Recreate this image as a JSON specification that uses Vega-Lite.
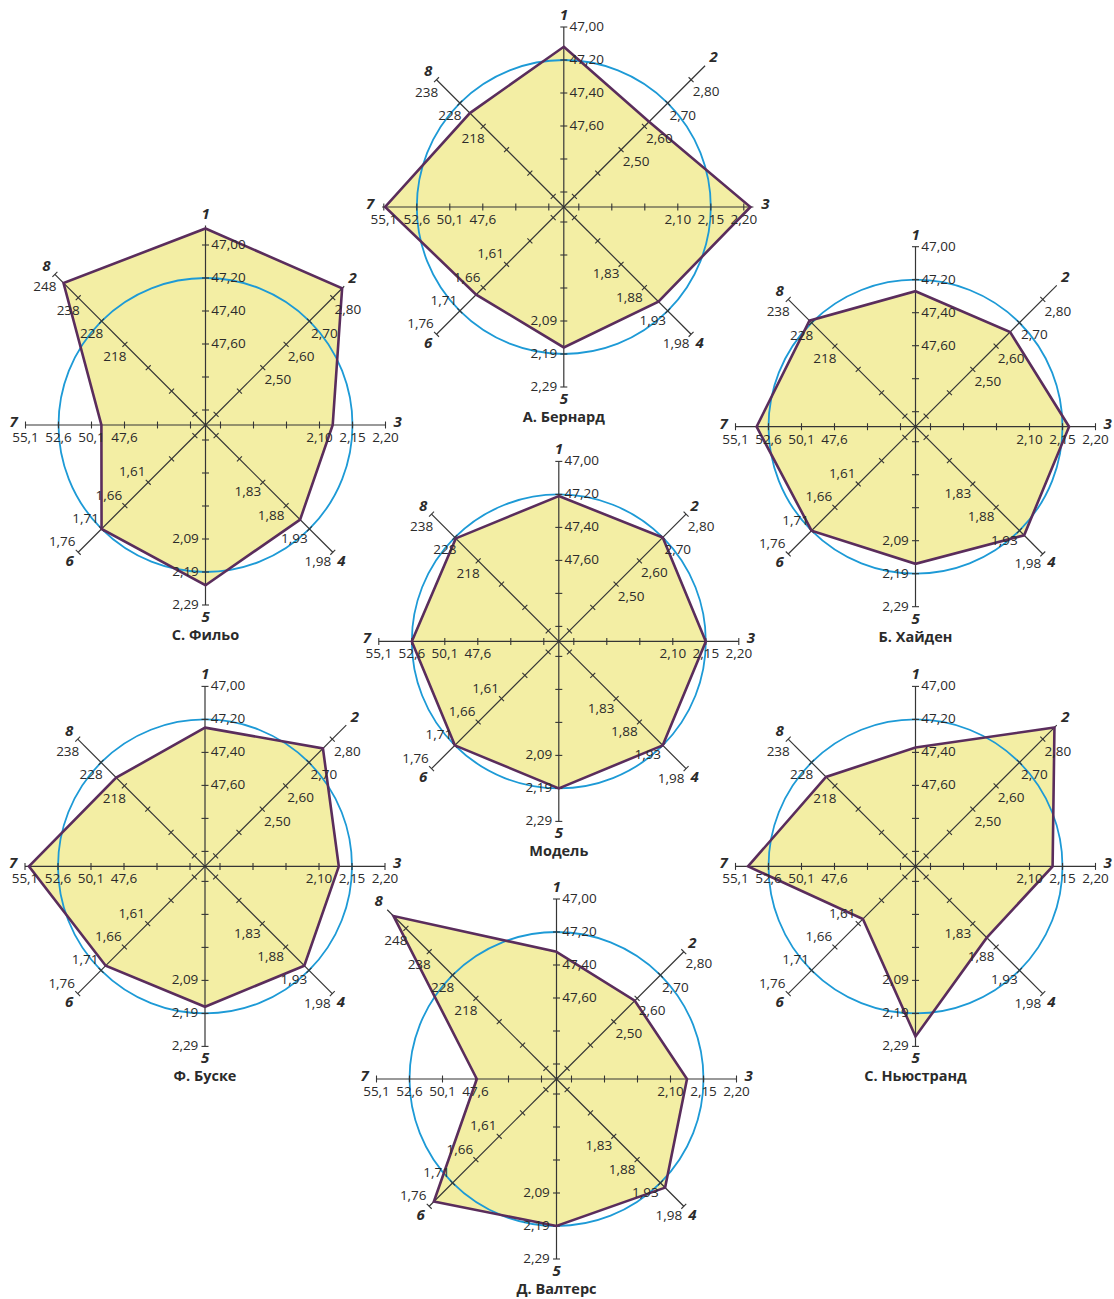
{
"$schema":"https://vega.github.io/schema/vega-lite/v6.json",
"background":"#ffffff",
"padding":{"left":8,"top":7,"right":5,"bottom":5},
"columns":3,"spacing":0,"bounds":"flush",
"config":{"view":{"stroke":null}},
"datasets":{
"axes":[
{"axis":1,"v0":47.6,"k0":2,"step":-0.2},
{"axis":2,"v0":2.5,"k0":2,"step":0.1},
{"axis":3,"v0":2.1,"k0":3,"step":0.05},
{"axis":4,"v0":1.83,"k0":2,"step":0.05},
{"axis":5,"v0":2.09,"k0":3,"step":0.1},
{"axis":6,"v0":1.61,"k0":2,"step":0.05},
{"axis":7,"v0":47.6,"k0":2,"step":2.5},
{"axis":8,"v0":218,"k0":3,"step":10}
],
"ticks":[
{"axis":1,"value":48.0,"label":""},{"axis":1,"value":47.8,"label":""},{"axis":1,"value":47.6,"label":"47,60"},{"axis":1,"value":47.4,"label":"47,40"},{"axis":1,"value":47.2,"label":"47,20"},{"axis":1,"value":47.0,"label":"47,00"},
{"axis":2,"value":2.3,"label":""},{"axis":2,"value":2.4,"label":""},{"axis":2,"value":2.5,"label":"2,50"},{"axis":2,"value":2.6,"label":"2,60"},{"axis":2,"value":2.7,"label":"2,70"},{"axis":2,"value":2.8,"label":"2,80"},
{"axis":3,"value":1.95,"label":""},{"axis":3,"value":2.0,"label":""},{"axis":3,"value":2.05,"label":""},{"axis":3,"value":2.1,"label":"2,10"},{"axis":3,"value":2.15,"label":"2,15"},{"axis":3,"value":2.2,"label":"2,20"},
{"axis":4,"value":1.73,"label":""},{"axis":4,"value":1.78,"label":""},{"axis":4,"value":1.83,"label":"1,83"},{"axis":4,"value":1.88,"label":"1,88"},{"axis":4,"value":1.93,"label":"1,93"},{"axis":4,"value":1.98,"label":"1,98"},
{"axis":5,"value":1.79,"label":""},{"axis":5,"value":1.89,"label":""},{"axis":5,"value":1.99,"label":""},{"axis":5,"value":2.09,"label":"2,09"},{"axis":5,"value":2.19,"label":"2,19"},{"axis":5,"value":2.29,"label":"2,29"},
{"axis":6,"value":1.51,"label":""},{"axis":6,"value":1.56,"label":""},{"axis":6,"value":1.61,"label":"1,61"},{"axis":6,"value":1.66,"label":"1,66"},{"axis":6,"value":1.71,"label":"1,71"},{"axis":6,"value":1.76,"label":"1,76"},
{"axis":7,"value":42.6,"label":""},{"axis":7,"value":45.1,"label":""},{"axis":7,"value":47.6,"label":"47,6"},{"axis":7,"value":50.1,"label":"50,1"},{"axis":7,"value":52.6,"label":"52,6"},{"axis":7,"value":55.1,"label":"55,1"},
{"axis":8,"value":188,"label":""},{"axis":8,"value":198,"label":""},{"axis":8,"value":208,"label":""},{"axis":8,"value":218,"label":"218"},{"axis":8,"value":228,"label":"228"},{"axis":8,"value":238,"label":"238"},{"axis":8,"value":248,"label":"248"}
],
"vals":[
{"chart":"bernard","axis":1,"value":47.12},{"chart":"bernard","axis":2,"value":2.62,"end":2.86},{"chart":"bernard","axis":3,"value":2.21},{"chart":"bernard","axis":4,"value":1.91},{"chart":"bernard","axis":5,"value":2.17},{"chart":"bernard","axis":6,"value":1.675},{"chart":"bernard","axis":7,"value":55.0},{"chart":"bernard","axis":8,"value":223.7},
{"chart":"filho","axis":1,"value":46.90},{"chart":"filho","axis":2,"value":2.84},{"chart":"filho","axis":3,"value":2.12},{"chart":"filho","axis":4,"value":1.91},{"chart":"filho","axis":5,"value":2.23},{"chart":"filho","axis":6,"value":1.71},{"chart":"filho","axis":7,"value":49.35},{"chart":"filho","axis":8,"value":244.3,"end":248},
{"chart":"hayden","axis":1,"value":47.27},{"chart":"hayden","axis":2,"value":2.66,"end":2.86},{"chart":"hayden","axis":3,"value":2.16},{"chart":"hayden","axis":4,"value":1.94},{"chart":"hayden","axis":5,"value":2.16},{"chart":"hayden","axis":6,"value":1.71},{"chart":"hayden","axis":7,"value":53.5},{"chart":"hayden","axis":8,"value":228.9},
{"chart":"model","axis":1,"value":47.21},{"chart":"model","axis":2,"value":2.70},{"chart":"model","axis":3,"value":2.15},{"chart":"model","axis":4,"value":1.93},{"chart":"model","axis":5,"value":2.19},{"chart":"model","axis":6,"value":1.71},{"chart":"model","axis":7,"value":52.6},{"chart":"model","axis":8,"value":227.6},
{"chart":"bousquet","axis":1,"value":47.25},{"chart":"bousquet","axis":2,"value":2.76,"end":2.86},{"chart":"bousquet","axis":3,"value":2.13},{"chart":"bousquet","axis":4,"value":1.92},{"chart":"bousquet","axis":5,"value":2.17},{"chart":"bousquet","axis":6,"value":1.70},{"chart":"bousquet","axis":7,"value":54.8},{"chart":"bousquet","axis":8,"value":221.5},
{"chart":"nystrand","axis":1,"value":47.37},{"chart":"nystrand","axis":2,"value":2.85,"end":2.86},{"chart":"nystrand","axis":3,"value":2.135},{"chart":"nystrand","axis":4,"value":1.86},{"chart":"nystrand","axis":5,"value":2.26},{"chart":"nystrand","axis":6,"value":1.60},{"chart":"nystrand","axis":7,"value":54.15},{"chart":"nystrand","axis":8,"value":221.8},
{"chart":"walters","axis":1,"value":47.32},{"chart":"walters","axis":2,"value":2.59},{"chart":"walters","axis":3,"value":2.125},{"chart":"walters","axis":4,"value":1.94},{"chart":"walters","axis":5,"value":2.19},{"chart":"walters","axis":6,"value":1.75},{"chart":"walters","axis":7,"value":47.5},{"chart":"walters","axis":8,"value":253.3,"end":256}
],
"charts":[
{"chart":"bernard","title":"А. Бернард"},
{"chart":"filho","title":"С. Фильо"},
{"chart":"hayden","title":"Б. Хайден"},
{"chart":"model","title":"Модель"},
{"chart":"bousquet","title":"Ф. Буске"},
{"chart":"nystrand","title":"С. Ньюстранд"},
{"chart":"walters","title":"Д. Валтерс"}
]
},
"concat":[
{"width":355,"height":218,"data":{"values":[]},"mark":"point"},
{"width":355,"height":218,
"encoding":{"x":{"field":"x","type":"quantitative","scale":{"domain":[-180.8,174.2],"nice":false,"zero":false},"axis":null},"y":{"field":"y","type":"quantitative","scale":{"domain":[-109,109],"nice":false,"zero":false},"axis":null}},
"layer":[
{"data":{"name":"vals"},"transform":[{"filter":"datum.chart=='bernard'"},{"lookup":"axis","from":{"data":{"name":"axes"},"key":"axis","fields":["v0","k0","step"]}},{"calculate":"15+33*(datum.k0+(datum.value-datum.v0)/datum.step)","as":"r"},{"calculate":"(datum.axis-1)*PI/4","as":"t"},{"calculate":"datum.r*sin(datum.t)","as":"x"},{"calculate":"datum.r*cos(datum.t)","as":"y"}],
"mark":{"type":"line","interpolate":"linear-closed","fill":"#f3eea4","strokeOpacity":0},"encoding":{"order":{"field":"axis","type":"quantitative"}}},
{"data":{"values":[{}]},"transform":[{"calculate":"0","as":"x"},{"calculate":"0","as":"y"}],
"mark":{"type":"point","shape":"circle","size":86436,"filled":false,"stroke":"#1d9ad6","strokeWidth":1.8,"opacity":1}},
{"data":{"name":"vals"},"transform":[{"filter":"datum.chart=='bernard'"},{"lookup":"axis","from":{"data":{"name":"axes"},"key":"axis","fields":["v0","k0","step"]}},{"calculate":"15+33*(datum.k0+(datum.value-datum.v0)/datum.step)","as":"r"},{"calculate":"(datum.axis-1)*PI/4","as":"t"},{"calculate":"max(180,datum.r+3,isValid(datum.end)?15+33*(datum.k0+(datum.end-datum.v0)/datum.step):0)","as":"re"},{"calculate":"0","as":"x"},{"calculate":"0","as":"y"},{"calculate":"datum.re*sin(datum.t)","as":"ex"},{"calculate":"datum.re*cos(datum.t)","as":"ey"}],
"mark":{"type":"rule","color":"#353535","strokeWidth":1.2},"encoding":{"x2":{"field":"ex"},"y2":{"field":"ey"}}},
{"data":{"name":"ticks"},"transform":[{"filter":"datum.value!=248"},{"lookup":"axis","from":{"data":{"name":"axes"},"key":"axis","fields":["v0","k0","step"]}},{"calculate":"15+33*(datum.k0+(datum.value-datum.v0)/datum.step)","as":"r"},{"calculate":"(datum.axis-1)*PI/4","as":"t"},{"calculate":"datum.r*sin(datum.t)+3.5*cos(datum.t)","as":"x"},{"calculate":"datum.r*cos(datum.t)-3.5*sin(datum.t)","as":"y"},{"calculate":"datum.r*sin(datum.t)-3.5*cos(datum.t)","as":"tx2"},{"calculate":"datum.r*cos(datum.t)+3.5*sin(datum.t)","as":"ty2"}],
"mark":{"type":"rule","color":"#353535","strokeWidth":1.1},"encoding":{"x2":{"field":"tx2"},"y2":{"field":"ty2"}}},
{"data":{"name":"vals"},"transform":[{"filter":"datum.chart=='bernard'"},{"lookup":"axis","from":{"data":{"name":"axes"},"key":"axis","fields":["v0","k0","step"]}},{"calculate":"15+33*(datum.k0+(datum.value-datum.v0)/datum.step)","as":"r"},{"calculate":"(datum.axis-1)*PI/4","as":"t"},{"calculate":"datum.r*sin(datum.t)","as":"x"},{"calculate":"datum.r*cos(datum.t)","as":"y"}],
"mark":{"type":"line","interpolate":"linear-closed","color":"#5a2d5c","strokeWidth":2.6},"encoding":{"order":{"field":"axis","type":"quantitative"}}},
{"data":{"name":"ticks"},"transform":[{"filter":"datum.label!=''"},{"filter":"datum.value!=248"},{"lookup":"axis","from":{"data":{"name":"axes"},"key":"axis","fields":["v0","k0","step"]}},{"calculate":"15+33*(datum.k0+(datum.value-datum.v0)/datum.step)","as":"r"},{"calculate":"(datum.axis-1)*PI/4","as":"t"},{"calculate":"datum.r*sin(datum.t)+[0,23,15,0,-15,-20,-16,0,-10][datum.axis]","as":"x"},{"calculate":"datum.r*cos(datum.t)-[0,0,12.5,13,10,0,-10,13,13][datum.axis]","as":"y"}],
"mark":{"type":"text","font":"Open Sans","fontSize":13.5,"color":"#2b2b2b","align":"center","baseline":"middle"},"encoding":{"text":{"field":"label"}}},
{"data":{"name":"vals"},"transform":[{"filter":"datum.chart=='bernard'"},{"lookup":"axis","from":{"data":{"name":"axes"},"key":"axis","fields":["v0","k0","step"]}},{"calculate":"15+33*(datum.k0+(datum.value-datum.v0)/datum.step)","as":"r"},{"calculate":"(datum.axis-1)*PI/4","as":"t"},{"calculate":"max(180,datum.r+3,isValid(datum.end)?15+33*(datum.k0+(datum.end-datum.v0)/datum.step):0)","as":"re"},{"calculate":"(datum.re+12)*sin(datum.t)","as":"x"},{"calculate":"(datum.re+12)*cos(datum.t)+(datum.axis==3||datum.axis==7?3:0)","as":"y"},{"calculate":"''+datum.axis","as":"num"}],
"mark":{"type":"text","font":"Open Sans","fontSize":15,"fontWeight":"bold","fontStyle":"italic","color":"#2b2b2b","align":"center","baseline":"middle"},"encoding":{"text":{"field":"num"}}},
{"data":{"name":"charts"},"transform":[{"filter":"datum.chart=='bernard'"},{"calculate":"0","as":"x"},{"calculate":"-211","as":"y"}],
"mark":{"type":"text","font":"Open Sans","fontSize":14.5,"fontWeight":"bold","color":"#2b2b2b","align":"center","baseline":"middle"},"encoding":{"text":{"field":"title"}}}
]},
{"width":355,"height":218,"data":{"values":[]},"mark":"point"},

{"width":355,"height":218,
"encoding":{"x":{"field":"x","type":"quantitative","scale":{"domain":[-177.5,177.5],"nice":false,"zero":false},"axis":null},"y":{"field":"y","type":"quantitative","scale":{"domain":[-109,109],"nice":false,"zero":false},"axis":null}},
"layer":[
{"data":{"name":"vals"},"transform":[{"filter":"datum.chart=='filho'"},{"lookup":"axis","from":{"data":{"name":"axes"},"key":"axis","fields":["v0","k0","step"]}},{"calculate":"15+33*(datum.k0+(datum.value-datum.v0)/datum.step)","as":"r"},{"calculate":"(datum.axis-1)*PI/4","as":"t"},{"calculate":"datum.r*sin(datum.t)","as":"x"},{"calculate":"datum.r*cos(datum.t)","as":"y"}],
"mark":{"type":"line","interpolate":"linear-closed","fill":"#f3eea4","strokeOpacity":0},"encoding":{"order":{"field":"axis","type":"quantitative"}}},
{"data":{"values":[{}]},"transform":[{"calculate":"0","as":"x"},{"calculate":"0","as":"y"}],
"mark":{"type":"point","shape":"circle","size":86436,"filled":false,"stroke":"#1d9ad6","strokeWidth":1.8,"opacity":1}},
{"data":{"name":"vals"},"transform":[{"filter":"datum.chart=='filho'"},{"lookup":"axis","from":{"data":{"name":"axes"},"key":"axis","fields":["v0","k0","step"]}},{"calculate":"15+33*(datum.k0+(datum.value-datum.v0)/datum.step)","as":"r"},{"calculate":"(datum.axis-1)*PI/4","as":"t"},{"calculate":"max(180,datum.r+3,isValid(datum.end)?15+33*(datum.k0+(datum.end-datum.v0)/datum.step):0)","as":"re"},{"calculate":"0","as":"x"},{"calculate":"0","as":"y"},{"calculate":"datum.re*sin(datum.t)","as":"ex"},{"calculate":"datum.re*cos(datum.t)","as":"ey"}],
"mark":{"type":"rule","color":"#353535","strokeWidth":1.2},"encoding":{"x2":{"field":"ex"},"y2":{"field":"ey"}}},
{"data":{"name":"ticks"},"transform":[{"filter":"true"},{"lookup":"axis","from":{"data":{"name":"axes"},"key":"axis","fields":["v0","k0","step"]}},{"calculate":"15+33*(datum.k0+(datum.value-datum.v0)/datum.step)","as":"r"},{"calculate":"(datum.axis-1)*PI/4","as":"t"},{"calculate":"datum.r*sin(datum.t)+3.5*cos(datum.t)","as":"x"},{"calculate":"datum.r*cos(datum.t)-3.5*sin(datum.t)","as":"y"},{"calculate":"datum.r*sin(datum.t)-3.5*cos(datum.t)","as":"tx2"},{"calculate":"datum.r*cos(datum.t)+3.5*sin(datum.t)","as":"ty2"}],
"mark":{"type":"rule","color":"#353535","strokeWidth":1.1},"encoding":{"x2":{"field":"tx2"},"y2":{"field":"ty2"}}},
{"data":{"name":"vals"},"transform":[{"filter":"datum.chart=='filho'"},{"lookup":"axis","from":{"data":{"name":"axes"},"key":"axis","fields":["v0","k0","step"]}},{"calculate":"15+33*(datum.k0+(datum.value-datum.v0)/datum.step)","as":"r"},{"calculate":"(datum.axis-1)*PI/4","as":"t"},{"calculate":"datum.r*sin(datum.t)","as":"x"},{"calculate":"datum.r*cos(datum.t)","as":"y"}],
"mark":{"type":"line","interpolate":"linear-closed","color":"#5a2d5c","strokeWidth":2.6},"encoding":{"order":{"field":"axis","type":"quantitative"}}},
{"data":{"name":"ticks"},"transform":[{"filter":"datum.label!=''"},{"lookup":"axis","from":{"data":{"name":"axes"},"key":"axis","fields":["v0","k0","step"]}},{"calculate":"15+33*(datum.k0+(datum.value-datum.v0)/datum.step)","as":"r"},{"calculate":"(datum.axis-1)*PI/4","as":"t"},{"calculate":"datum.r*sin(datum.t)+[0,23,15,0,-15,-20,-16,0,-10][datum.axis]","as":"x"},{"calculate":"datum.r*cos(datum.t)-[0,0,12.5,13,10,0,-10,13,13][datum.axis]","as":"y"}],
"mark":{"type":"text","font":"Open Sans","fontSize":13.5,"color":"#2b2b2b","align":"center","baseline":"middle"},"encoding":{"text":{"field":"label"}}},
{"data":{"name":"vals"},"transform":[{"filter":"datum.chart=='filho'"},{"lookup":"axis","from":{"data":{"name":"axes"},"key":"axis","fields":["v0","k0","step"]}},{"calculate":"15+33*(datum.k0+(datum.value-datum.v0)/datum.step)","as":"r"},{"calculate":"(datum.axis-1)*PI/4","as":"t"},{"calculate":"max(180,datum.r+3,isValid(datum.end)?15+33*(datum.k0+(datum.end-datum.v0)/datum.step):0)","as":"re"},{"calculate":"(datum.re+12)*sin(datum.t)","as":"x"},{"calculate":"(datum.re+12)*cos(datum.t)+(datum.axis==3||datum.axis==7?3:0)","as":"y"},{"calculate":"''+datum.axis","as":"num"}],
"mark":{"type":"text","font":"Open Sans","fontSize":15,"fontWeight":"bold","fontStyle":"italic","color":"#2b2b2b","align":"center","baseline":"middle"},"encoding":{"text":{"field":"num"}}},
{"data":{"name":"charts"},"transform":[{"filter":"datum.chart=='filho'"},{"calculate":"0","as":"x"},{"calculate":"-211","as":"y"}],
"mark":{"type":"text","font":"Open Sans","fontSize":14.5,"fontWeight":"bold","color":"#2b2b2b","align":"center","baseline":"middle"},"encoding":{"text":{"field":"title"}}}
]},
{"width":355,"height":218,"data":{"values":[]},"mark":"point"},
{"width":355,"height":218,
"encoding":{"x":{"field":"x","type":"quantitative","scale":{"domain":[-177.5,177.5],"nice":false,"zero":false},"axis":null},"y":{"field":"y","type":"quantitative","scale":{"domain":[-107.3,110.7],"nice":false,"zero":false},"axis":null}},
"layer":[
{"data":{"name":"vals"},"transform":[{"filter":"datum.chart=='hayden'"},{"lookup":"axis","from":{"data":{"name":"axes"},"key":"axis","fields":["v0","k0","step"]}},{"calculate":"15+33*(datum.k0+(datum.value-datum.v0)/datum.step)","as":"r"},{"calculate":"(datum.axis-1)*PI/4","as":"t"},{"calculate":"datum.r*sin(datum.t)","as":"x"},{"calculate":"datum.r*cos(datum.t)","as":"y"}],
"mark":{"type":"line","interpolate":"linear-closed","fill":"#f3eea4","strokeOpacity":0},"encoding":{"order":{"field":"axis","type":"quantitative"}}},
{"data":{"values":[{}]},"transform":[{"calculate":"0","as":"x"},{"calculate":"0","as":"y"}],
"mark":{"type":"point","shape":"circle","size":86436,"filled":false,"stroke":"#1d9ad6","strokeWidth":1.8,"opacity":1}},
{"data":{"name":"vals"},"transform":[{"filter":"datum.chart=='hayden'"},{"lookup":"axis","from":{"data":{"name":"axes"},"key":"axis","fields":["v0","k0","step"]}},{"calculate":"15+33*(datum.k0+(datum.value-datum.v0)/datum.step)","as":"r"},{"calculate":"(datum.axis-1)*PI/4","as":"t"},{"calculate":"max(180,datum.r+3,isValid(datum.end)?15+33*(datum.k0+(datum.end-datum.v0)/datum.step):0)","as":"re"},{"calculate":"0","as":"x"},{"calculate":"0","as":"y"},{"calculate":"datum.re*sin(datum.t)","as":"ex"},{"calculate":"datum.re*cos(datum.t)","as":"ey"}],
"mark":{"type":"rule","color":"#353535","strokeWidth":1.2},"encoding":{"x2":{"field":"ex"},"y2":{"field":"ey"}}},
{"data":{"name":"ticks"},"transform":[{"filter":"datum.value!=248"},{"lookup":"axis","from":{"data":{"name":"axes"},"key":"axis","fields":["v0","k0","step"]}},{"calculate":"15+33*(datum.k0+(datum.value-datum.v0)/datum.step)","as":"r"},{"calculate":"(datum.axis-1)*PI/4","as":"t"},{"calculate":"datum.r*sin(datum.t)+3.5*cos(datum.t)","as":"x"},{"calculate":"datum.r*cos(datum.t)-3.5*sin(datum.t)","as":"y"},{"calculate":"datum.r*sin(datum.t)-3.5*cos(datum.t)","as":"tx2"},{"calculate":"datum.r*cos(datum.t)+3.5*sin(datum.t)","as":"ty2"}],
"mark":{"type":"rule","color":"#353535","strokeWidth":1.1},"encoding":{"x2":{"field":"tx2"},"y2":{"field":"ty2"}}},
{"data":{"name":"vals"},"transform":[{"filter":"datum.chart=='hayden'"},{"lookup":"axis","from":{"data":{"name":"axes"},"key":"axis","fields":["v0","k0","step"]}},{"calculate":"15+33*(datum.k0+(datum.value-datum.v0)/datum.step)","as":"r"},{"calculate":"(datum.axis-1)*PI/4","as":"t"},{"calculate":"datum.r*sin(datum.t)","as":"x"},{"calculate":"datum.r*cos(datum.t)","as":"y"}],
"mark":{"type":"line","interpolate":"linear-closed","color":"#5a2d5c","strokeWidth":2.6},"encoding":{"order":{"field":"axis","type":"quantitative"}}},
{"data":{"name":"ticks"},"transform":[{"filter":"datum.label!=''"},{"filter":"datum.value!=248"},{"lookup":"axis","from":{"data":{"name":"axes"},"key":"axis","fields":["v0","k0","step"]}},{"calculate":"15+33*(datum.k0+(datum.value-datum.v0)/datum.step)","as":"r"},{"calculate":"(datum.axis-1)*PI/4","as":"t"},{"calculate":"datum.r*sin(datum.t)+[0,23,15,0,-15,-20,-16,0,-10][datum.axis]","as":"x"},{"calculate":"datum.r*cos(datum.t)-[0,0,12.5,13,10,0,-10,13,13][datum.axis]","as":"y"}],
"mark":{"type":"text","font":"Open Sans","fontSize":13.5,"color":"#2b2b2b","align":"center","baseline":"middle"},"encoding":{"text":{"field":"label"}}},
{"data":{"name":"vals"},"transform":[{"filter":"datum.chart=='hayden'"},{"lookup":"axis","from":{"data":{"name":"axes"},"key":"axis","fields":["v0","k0","step"]}},{"calculate":"15+33*(datum.k0+(datum.value-datum.v0)/datum.step)","as":"r"},{"calculate":"(datum.axis-1)*PI/4","as":"t"},{"calculate":"max(180,datum.r+3,isValid(datum.end)?15+33*(datum.k0+(datum.end-datum.v0)/datum.step):0)","as":"re"},{"calculate":"(datum.re+12)*sin(datum.t)","as":"x"},{"calculate":"(datum.re+12)*cos(datum.t)+(datum.axis==3||datum.axis==7?3:0)","as":"y"},{"calculate":"''+datum.axis","as":"num"}],
"mark":{"type":"text","font":"Open Sans","fontSize":15,"fontWeight":"bold","fontStyle":"italic","color":"#2b2b2b","align":"center","baseline":"middle"},"encoding":{"text":{"field":"num"}}},
{"data":{"name":"charts"},"transform":[{"filter":"datum.chart=='hayden'"},{"calculate":"0","as":"x"},{"calculate":"-211","as":"y"}],
"mark":{"type":"text","font":"Open Sans","fontSize":14.5,"fontWeight":"bold","color":"#2b2b2b","align":"center","baseline":"middle"},"encoding":{"text":{"field":"title"}}}
]},

{"width":355,"height":218,"data":{"values":[]},"mark":"point"},
{"width":355,"height":218,
"encoding":{"x":{"field":"x","type":"quantitative","scale":{"domain":[-175.8,179.2],"nice":false,"zero":false},"axis":null},"y":{"field":"y","type":"quantitative","scale":{"domain":[-110.6,107.4],"nice":false,"zero":false},"axis":null}},
"layer":[
{"data":{"name":"vals"},"transform":[{"filter":"datum.chart=='model'"},{"lookup":"axis","from":{"data":{"name":"axes"},"key":"axis","fields":["v0","k0","step"]}},{"calculate":"15+33*(datum.k0+(datum.value-datum.v0)/datum.step)","as":"r"},{"calculate":"(datum.axis-1)*PI/4","as":"t"},{"calculate":"datum.r*sin(datum.t)","as":"x"},{"calculate":"datum.r*cos(datum.t)","as":"y"}],
"mark":{"type":"line","interpolate":"linear-closed","fill":"#f3eea4","strokeOpacity":0},"encoding":{"order":{"field":"axis","type":"quantitative"}}},
{"data":{"values":[{}]},"transform":[{"calculate":"0","as":"x"},{"calculate":"0","as":"y"}],
"mark":{"type":"point","shape":"circle","size":86436,"filled":false,"stroke":"#1d9ad6","strokeWidth":1.8,"opacity":1}},
{"data":{"name":"vals"},"transform":[{"filter":"datum.chart=='model'"},{"lookup":"axis","from":{"data":{"name":"axes"},"key":"axis","fields":["v0","k0","step"]}},{"calculate":"15+33*(datum.k0+(datum.value-datum.v0)/datum.step)","as":"r"},{"calculate":"(datum.axis-1)*PI/4","as":"t"},{"calculate":"max(180,datum.r+3,isValid(datum.end)?15+33*(datum.k0+(datum.end-datum.v0)/datum.step):0)","as":"re"},{"calculate":"0","as":"x"},{"calculate":"0","as":"y"},{"calculate":"datum.re*sin(datum.t)","as":"ex"},{"calculate":"datum.re*cos(datum.t)","as":"ey"}],
"mark":{"type":"rule","color":"#353535","strokeWidth":1.2},"encoding":{"x2":{"field":"ex"},"y2":{"field":"ey"}}},
{"data":{"name":"ticks"},"transform":[{"filter":"datum.value!=248"},{"lookup":"axis","from":{"data":{"name":"axes"},"key":"axis","fields":["v0","k0","step"]}},{"calculate":"15+33*(datum.k0+(datum.value-datum.v0)/datum.step)","as":"r"},{"calculate":"(datum.axis-1)*PI/4","as":"t"},{"calculate":"datum.r*sin(datum.t)+3.5*cos(datum.t)","as":"x"},{"calculate":"datum.r*cos(datum.t)-3.5*sin(datum.t)","as":"y"},{"calculate":"datum.r*sin(datum.t)-3.5*cos(datum.t)","as":"tx2"},{"calculate":"datum.r*cos(datum.t)+3.5*sin(datum.t)","as":"ty2"}],
"mark":{"type":"rule","color":"#353535","strokeWidth":1.1},"encoding":{"x2":{"field":"tx2"},"y2":{"field":"ty2"}}},
{"data":{"name":"vals"},"transform":[{"filter":"datum.chart=='model'"},{"lookup":"axis","from":{"data":{"name":"axes"},"key":"axis","fields":["v0","k0","step"]}},{"calculate":"15+33*(datum.k0+(datum.value-datum.v0)/datum.step)","as":"r"},{"calculate":"(datum.axis-1)*PI/4","as":"t"},{"calculate":"datum.r*sin(datum.t)","as":"x"},{"calculate":"datum.r*cos(datum.t)","as":"y"}],
"mark":{"type":"line","interpolate":"linear-closed","color":"#5a2d5c","strokeWidth":2.6},"encoding":{"order":{"field":"axis","type":"quantitative"}}},
{"data":{"name":"ticks"},"transform":[{"filter":"datum.label!=''"},{"filter":"datum.value!=248"},{"lookup":"axis","from":{"data":{"name":"axes"},"key":"axis","fields":["v0","k0","step"]}},{"calculate":"15+33*(datum.k0+(datum.value-datum.v0)/datum.step)","as":"r"},{"calculate":"(datum.axis-1)*PI/4","as":"t"},{"calculate":"datum.r*sin(datum.t)+[0,23,15,0,-15,-20,-16,0,-10][datum.axis]","as":"x"},{"calculate":"datum.r*cos(datum.t)-[0,0,12.5,13,10,0,-10,13,13][datum.axis]","as":"y"}],
"mark":{"type":"text","font":"Open Sans","fontSize":13.5,"color":"#2b2b2b","align":"center","baseline":"middle"},"encoding":{"text":{"field":"label"}}},
{"data":{"name":"vals"},"transform":[{"filter":"datum.chart=='model'"},{"lookup":"axis","from":{"data":{"name":"axes"},"key":"axis","fields":["v0","k0","step"]}},{"calculate":"15+33*(datum.k0+(datum.value-datum.v0)/datum.step)","as":"r"},{"calculate":"(datum.axis-1)*PI/4","as":"t"},{"calculate":"max(180,datum.r+3,isValid(datum.end)?15+33*(datum.k0+(datum.end-datum.v0)/datum.step):0)","as":"re"},{"calculate":"(datum.re+12)*sin(datum.t)","as":"x"},{"calculate":"(datum.re+12)*cos(datum.t)+(datum.axis==3||datum.axis==7?3:0)","as":"y"},{"calculate":"''+datum.axis","as":"num"}],
"mark":{"type":"text","font":"Open Sans","fontSize":15,"fontWeight":"bold","fontStyle":"italic","color":"#2b2b2b","align":"center","baseline":"middle"},"encoding":{"text":{"field":"num"}}},
{"data":{"name":"charts"},"transform":[{"filter":"datum.chart=='model'"},{"calculate":"0","as":"x"},{"calculate":"-211","as":"y"}],
"mark":{"type":"text","font":"Open Sans","fontSize":14.5,"fontWeight":"bold","color":"#2b2b2b","align":"center","baseline":"middle"},"encoding":{"text":{"field":"title"}}}
]},
{"width":355,"height":218,"data":{"values":[]},"mark":"point"},

{"width":355,"height":218,
"encoding":{"x":{"field":"x","type":"quantitative","scale":{"domain":[-177,178],"nice":false,"zero":false},"axis":null},"y":{"field":"y","type":"quantitative","scale":{"domain":[-103.6,114.4],"nice":false,"zero":false},"axis":null}},
"layer":[
{"data":{"name":"vals"},"transform":[{"filter":"datum.chart=='bousquet'"},{"lookup":"axis","from":{"data":{"name":"axes"},"key":"axis","fields":["v0","k0","step"]}},{"calculate":"15+33*(datum.k0+(datum.value-datum.v0)/datum.step)","as":"r"},{"calculate":"(datum.axis-1)*PI/4","as":"t"},{"calculate":"datum.r*sin(datum.t)","as":"x"},{"calculate":"datum.r*cos(datum.t)","as":"y"}],
"mark":{"type":"line","interpolate":"linear-closed","fill":"#f3eea4","strokeOpacity":0},"encoding":{"order":{"field":"axis","type":"quantitative"}}},
{"data":{"values":[{}]},"transform":[{"calculate":"0","as":"x"},{"calculate":"0","as":"y"}],
"mark":{"type":"point","shape":"circle","size":86436,"filled":false,"stroke":"#1d9ad6","strokeWidth":1.8,"opacity":1}},
{"data":{"name":"vals"},"transform":[{"filter":"datum.chart=='bousquet'"},{"lookup":"axis","from":{"data":{"name":"axes"},"key":"axis","fields":["v0","k0","step"]}},{"calculate":"15+33*(datum.k0+(datum.value-datum.v0)/datum.step)","as":"r"},{"calculate":"(datum.axis-1)*PI/4","as":"t"},{"calculate":"max(180,datum.r+3,isValid(datum.end)?15+33*(datum.k0+(datum.end-datum.v0)/datum.step):0)","as":"re"},{"calculate":"0","as":"x"},{"calculate":"0","as":"y"},{"calculate":"datum.re*sin(datum.t)","as":"ex"},{"calculate":"datum.re*cos(datum.t)","as":"ey"}],
"mark":{"type":"rule","color":"#353535","strokeWidth":1.2},"encoding":{"x2":{"field":"ex"},"y2":{"field":"ey"}}},
{"data":{"name":"ticks"},"transform":[{"filter":"datum.value!=248"},{"lookup":"axis","from":{"data":{"name":"axes"},"key":"axis","fields":["v0","k0","step"]}},{"calculate":"15+33*(datum.k0+(datum.value-datum.v0)/datum.step)","as":"r"},{"calculate":"(datum.axis-1)*PI/4","as":"t"},{"calculate":"datum.r*sin(datum.t)+3.5*cos(datum.t)","as":"x"},{"calculate":"datum.r*cos(datum.t)-3.5*sin(datum.t)","as":"y"},{"calculate":"datum.r*sin(datum.t)-3.5*cos(datum.t)","as":"tx2"},{"calculate":"datum.r*cos(datum.t)+3.5*sin(datum.t)","as":"ty2"}],
"mark":{"type":"rule","color":"#353535","strokeWidth":1.1},"encoding":{"x2":{"field":"tx2"},"y2":{"field":"ty2"}}},
{"data":{"name":"vals"},"transform":[{"filter":"datum.chart=='bousquet'"},{"lookup":"axis","from":{"data":{"name":"axes"},"key":"axis","fields":["v0","k0","step"]}},{"calculate":"15+33*(datum.k0+(datum.value-datum.v0)/datum.step)","as":"r"},{"calculate":"(datum.axis-1)*PI/4","as":"t"},{"calculate":"datum.r*sin(datum.t)","as":"x"},{"calculate":"datum.r*cos(datum.t)","as":"y"}],
"mark":{"type":"line","interpolate":"linear-closed","color":"#5a2d5c","strokeWidth":2.6},"encoding":{"order":{"field":"axis","type":"quantitative"}}},
{"data":{"name":"ticks"},"transform":[{"filter":"datum.label!=''"},{"filter":"datum.value!=248"},{"lookup":"axis","from":{"data":{"name":"axes"},"key":"axis","fields":["v0","k0","step"]}},{"calculate":"15+33*(datum.k0+(datum.value-datum.v0)/datum.step)","as":"r"},{"calculate":"(datum.axis-1)*PI/4","as":"t"},{"calculate":"datum.r*sin(datum.t)+[0,23,15,0,-15,-20,-16,0,-10][datum.axis]","as":"x"},{"calculate":"datum.r*cos(datum.t)-[0,0,12.5,13,10,0,-10,13,13][datum.axis]","as":"y"}],
"mark":{"type":"text","font":"Open Sans","fontSize":13.5,"color":"#2b2b2b","align":"center","baseline":"middle"},"encoding":{"text":{"field":"label"}}},
{"data":{"name":"vals"},"transform":[{"filter":"datum.chart=='bousquet'"},{"lookup":"axis","from":{"data":{"name":"axes"},"key":"axis","fields":["v0","k0","step"]}},{"calculate":"15+33*(datum.k0+(datum.value-datum.v0)/datum.step)","as":"r"},{"calculate":"(datum.axis-1)*PI/4","as":"t"},{"calculate":"max(180,datum.r+3,isValid(datum.end)?15+33*(datum.k0+(datum.end-datum.v0)/datum.step):0)","as":"re"},{"calculate":"(datum.re+12)*sin(datum.t)","as":"x"},{"calculate":"(datum.re+12)*cos(datum.t)+(datum.axis==3||datum.axis==7?3:0)","as":"y"},{"calculate":"''+datum.axis","as":"num"}],
"mark":{"type":"text","font":"Open Sans","fontSize":15,"fontWeight":"bold","fontStyle":"italic","color":"#2b2b2b","align":"center","baseline":"middle"},"encoding":{"text":{"field":"num"}}},
{"data":{"name":"charts"},"transform":[{"filter":"datum.chart=='bousquet'"},{"calculate":"0","as":"x"},{"calculate":"-211","as":"y"}],
"mark":{"type":"text","font":"Open Sans","fontSize":14.5,"fontWeight":"bold","color":"#2b2b2b","align":"center","baseline":"middle"},"encoding":{"text":{"field":"title"}}}
]},
{"width":355,"height":218,"data":{"values":[]},"mark":"point"},
{"width":355,"height":218,
"encoding":{"x":{"field":"x","type":"quantitative","scale":{"domain":[-177.5,177.5],"nice":false,"zero":false},"axis":null},"y":{"field":"y","type":"quantitative","scale":{"domain":[-103.6,114.4],"nice":false,"zero":false},"axis":null}},
"layer":[
{"data":{"name":"vals"},"transform":[{"filter":"datum.chart=='nystrand'"},{"lookup":"axis","from":{"data":{"name":"axes"},"key":"axis","fields":["v0","k0","step"]}},{"calculate":"15+33*(datum.k0+(datum.value-datum.v0)/datum.step)","as":"r"},{"calculate":"(datum.axis-1)*PI/4","as":"t"},{"calculate":"datum.r*sin(datum.t)","as":"x"},{"calculate":"datum.r*cos(datum.t)","as":"y"}],
"mark":{"type":"line","interpolate":"linear-closed","fill":"#f3eea4","strokeOpacity":0},"encoding":{"order":{"field":"axis","type":"quantitative"}}},
{"data":{"values":[{}]},"transform":[{"calculate":"0","as":"x"},{"calculate":"0","as":"y"}],
"mark":{"type":"point","shape":"circle","size":86436,"filled":false,"stroke":"#1d9ad6","strokeWidth":1.8,"opacity":1}},
{"data":{"name":"vals"},"transform":[{"filter":"datum.chart=='nystrand'"},{"lookup":"axis","from":{"data":{"name":"axes"},"key":"axis","fields":["v0","k0","step"]}},{"calculate":"15+33*(datum.k0+(datum.value-datum.v0)/datum.step)","as":"r"},{"calculate":"(datum.axis-1)*PI/4","as":"t"},{"calculate":"max(180,datum.r+3,isValid(datum.end)?15+33*(datum.k0+(datum.end-datum.v0)/datum.step):0)","as":"re"},{"calculate":"0","as":"x"},{"calculate":"0","as":"y"},{"calculate":"datum.re*sin(datum.t)","as":"ex"},{"calculate":"datum.re*cos(datum.t)","as":"ey"}],
"mark":{"type":"rule","color":"#353535","strokeWidth":1.2},"encoding":{"x2":{"field":"ex"},"y2":{"field":"ey"}}},
{"data":{"name":"ticks"},"transform":[{"filter":"datum.value!=248"},{"lookup":"axis","from":{"data":{"name":"axes"},"key":"axis","fields":["v0","k0","step"]}},{"calculate":"15+33*(datum.k0+(datum.value-datum.v0)/datum.step)","as":"r"},{"calculate":"(datum.axis-1)*PI/4","as":"t"},{"calculate":"datum.r*sin(datum.t)+3.5*cos(datum.t)","as":"x"},{"calculate":"datum.r*cos(datum.t)-3.5*sin(datum.t)","as":"y"},{"calculate":"datum.r*sin(datum.t)-3.5*cos(datum.t)","as":"tx2"},{"calculate":"datum.r*cos(datum.t)+3.5*sin(datum.t)","as":"ty2"}],
"mark":{"type":"rule","color":"#353535","strokeWidth":1.1},"encoding":{"x2":{"field":"tx2"},"y2":{"field":"ty2"}}},
{"data":{"name":"vals"},"transform":[{"filter":"datum.chart=='nystrand'"},{"lookup":"axis","from":{"data":{"name":"axes"},"key":"axis","fields":["v0","k0","step"]}},{"calculate":"15+33*(datum.k0+(datum.value-datum.v0)/datum.step)","as":"r"},{"calculate":"(datum.axis-1)*PI/4","as":"t"},{"calculate":"datum.r*sin(datum.t)","as":"x"},{"calculate":"datum.r*cos(datum.t)","as":"y"}],
"mark":{"type":"line","interpolate":"linear-closed","color":"#5a2d5c","strokeWidth":2.6},"encoding":{"order":{"field":"axis","type":"quantitative"}}},
{"data":{"name":"ticks"},"transform":[{"filter":"datum.label!=''"},{"filter":"datum.value!=248"},{"lookup":"axis","from":{"data":{"name":"axes"},"key":"axis","fields":["v0","k0","step"]}},{"calculate":"15+33*(datum.k0+(datum.value-datum.v0)/datum.step)","as":"r"},{"calculate":"(datum.axis-1)*PI/4","as":"t"},{"calculate":"datum.r*sin(datum.t)+[0,23,15,0,-15,-20,-16,0,-10][datum.axis]","as":"x"},{"calculate":"datum.r*cos(datum.t)-[0,0,12.5,13,10,0,-10,13,13][datum.axis]","as":"y"}],
"mark":{"type":"text","font":"Open Sans","fontSize":13.5,"color":"#2b2b2b","align":"center","baseline":"middle"},"encoding":{"text":{"field":"label"}}},
{"data":{"name":"vals"},"transform":[{"filter":"datum.chart=='nystrand'"},{"lookup":"axis","from":{"data":{"name":"axes"},"key":"axis","fields":["v0","k0","step"]}},{"calculate":"15+33*(datum.k0+(datum.value-datum.v0)/datum.step)","as":"r"},{"calculate":"(datum.axis-1)*PI/4","as":"t"},{"calculate":"max(180,datum.r+3,isValid(datum.end)?15+33*(datum.k0+(datum.end-datum.v0)/datum.step):0)","as":"re"},{"calculate":"(datum.re+12)*sin(datum.t)","as":"x"},{"calculate":"(datum.re+12)*cos(datum.t)+(datum.axis==3||datum.axis==7?3:0)","as":"y"},{"calculate":"''+datum.axis","as":"num"}],
"mark":{"type":"text","font":"Open Sans","fontSize":15,"fontWeight":"bold","fontStyle":"italic","color":"#2b2b2b","align":"center","baseline":"middle"},"encoding":{"text":{"field":"num"}}},
{"data":{"name":"charts"},"transform":[{"filter":"datum.chart=='nystrand'"},{"calculate":"0","as":"x"},{"calculate":"-211","as":"y"}],
"mark":{"type":"text","font":"Open Sans","fontSize":14.5,"fontWeight":"bold","color":"#2b2b2b","align":"center","baseline":"middle"},"encoding":{"text":{"field":"title"}}}
]},

{"width":355,"height":218,"data":{"values":[]},"mark":"point"},
{"width":355,"height":218,
"encoding":{"x":{"field":"x","type":"quantitative","scale":{"domain":[-173.5,181.5],"nice":false,"zero":false},"axis":null},"y":{"field":"y","type":"quantitative","scale":{"domain":[-109,109],"nice":false,"zero":false},"axis":null}},
"layer":[
{"data":{"name":"vals"},"transform":[{"filter":"datum.chart=='walters'"},{"lookup":"axis","from":{"data":{"name":"axes"},"key":"axis","fields":["v0","k0","step"]}},{"calculate":"15+33*(datum.k0+(datum.value-datum.v0)/datum.step)","as":"r"},{"calculate":"(datum.axis-1)*PI/4","as":"t"},{"calculate":"datum.r*sin(datum.t)","as":"x"},{"calculate":"datum.r*cos(datum.t)","as":"y"}],
"mark":{"type":"line","interpolate":"linear-closed","fill":"#f3eea4","strokeOpacity":0},"encoding":{"order":{"field":"axis","type":"quantitative"}}},
{"data":{"values":[{}]},"transform":[{"calculate":"0","as":"x"},{"calculate":"0","as":"y"}],
"mark":{"type":"point","shape":"circle","size":86436,"filled":false,"stroke":"#1d9ad6","strokeWidth":1.8,"opacity":1}},
{"data":{"name":"vals"},"transform":[{"filter":"datum.chart=='walters'"},{"lookup":"axis","from":{"data":{"name":"axes"},"key":"axis","fields":["v0","k0","step"]}},{"calculate":"15+33*(datum.k0+(datum.value-datum.v0)/datum.step)","as":"r"},{"calculate":"(datum.axis-1)*PI/4","as":"t"},{"calculate":"max(180,datum.r+3,isValid(datum.end)?15+33*(datum.k0+(datum.end-datum.v0)/datum.step):0)","as":"re"},{"calculate":"0","as":"x"},{"calculate":"0","as":"y"},{"calculate":"datum.re*sin(datum.t)","as":"ex"},{"calculate":"datum.re*cos(datum.t)","as":"ey"}],
"mark":{"type":"rule","color":"#353535","strokeWidth":1.2},"encoding":{"x2":{"field":"ex"},"y2":{"field":"ey"}}},
{"data":{"name":"ticks"},"transform":[{"filter":"true"},{"lookup":"axis","from":{"data":{"name":"axes"},"key":"axis","fields":["v0","k0","step"]}},{"calculate":"15+33*(datum.k0+(datum.value-datum.v0)/datum.step)","as":"r"},{"calculate":"(datum.axis-1)*PI/4","as":"t"},{"calculate":"datum.r*sin(datum.t)+3.5*cos(datum.t)","as":"x"},{"calculate":"datum.r*cos(datum.t)-3.5*sin(datum.t)","as":"y"},{"calculate":"datum.r*sin(datum.t)-3.5*cos(datum.t)","as":"tx2"},{"calculate":"datum.r*cos(datum.t)+3.5*sin(datum.t)","as":"ty2"}],
"mark":{"type":"rule","color":"#353535","strokeWidth":1.1},"encoding":{"x2":{"field":"tx2"},"y2":{"field":"ty2"}}},
{"data":{"name":"vals"},"transform":[{"filter":"datum.chart=='walters'"},{"lookup":"axis","from":{"data":{"name":"axes"},"key":"axis","fields":["v0","k0","step"]}},{"calculate":"15+33*(datum.k0+(datum.value-datum.v0)/datum.step)","as":"r"},{"calculate":"(datum.axis-1)*PI/4","as":"t"},{"calculate":"datum.r*sin(datum.t)","as":"x"},{"calculate":"datum.r*cos(datum.t)","as":"y"}],
"mark":{"type":"line","interpolate":"linear-closed","color":"#5a2d5c","strokeWidth":2.6},"encoding":{"order":{"field":"axis","type":"quantitative"}}},
{"data":{"name":"ticks"},"transform":[{"filter":"datum.label!=''"},{"lookup":"axis","from":{"data":{"name":"axes"},"key":"axis","fields":["v0","k0","step"]}},{"calculate":"15+33*(datum.k0+(datum.value-datum.v0)/datum.step)","as":"r"},{"calculate":"(datum.axis-1)*PI/4","as":"t"},{"calculate":"datum.r*sin(datum.t)+[0,23,15,0,-15,-20,-16,0,-10][datum.axis]","as":"x"},{"calculate":"datum.r*cos(datum.t)-[0,0,12.5,13,10,0,-10,13,13][datum.axis]","as":"y"}],
"mark":{"type":"text","font":"Open Sans","fontSize":13.5,"color":"#2b2b2b","align":"center","baseline":"middle"},"encoding":{"text":{"field":"label"}}},
{"data":{"name":"vals"},"transform":[{"filter":"datum.chart=='walters'"},{"lookup":"axis","from":{"data":{"name":"axes"},"key":"axis","fields":["v0","k0","step"]}},{"calculate":"15+33*(datum.k0+(datum.value-datum.v0)/datum.step)","as":"r"},{"calculate":"(datum.axis-1)*PI/4","as":"t"},{"calculate":"max(180,datum.r+3,isValid(datum.end)?15+33*(datum.k0+(datum.end-datum.v0)/datum.step):0)","as":"re"},{"calculate":"(datum.re+12)*sin(datum.t)","as":"x"},{"calculate":"(datum.re+12)*cos(datum.t)+(datum.axis==3||datum.axis==7?3:0)","as":"y"},{"calculate":"''+datum.axis","as":"num"}],
"mark":{"type":"text","font":"Open Sans","fontSize":15,"fontWeight":"bold","fontStyle":"italic","color":"#2b2b2b","align":"center","baseline":"middle"},"encoding":{"text":{"field":"num"}}},
{"data":{"name":"charts"},"transform":[{"filter":"datum.chart=='walters'"},{"calculate":"0","as":"x"},{"calculate":"-211","as":"y"}],
"mark":{"type":"text","font":"Open Sans","fontSize":14.5,"fontWeight":"bold","color":"#2b2b2b","align":"center","baseline":"middle"},"encoding":{"text":{"field":"title"}}}
]},
{"width":355,"height":218,"data":{"values":[]},"mark":"point"}
]
}
